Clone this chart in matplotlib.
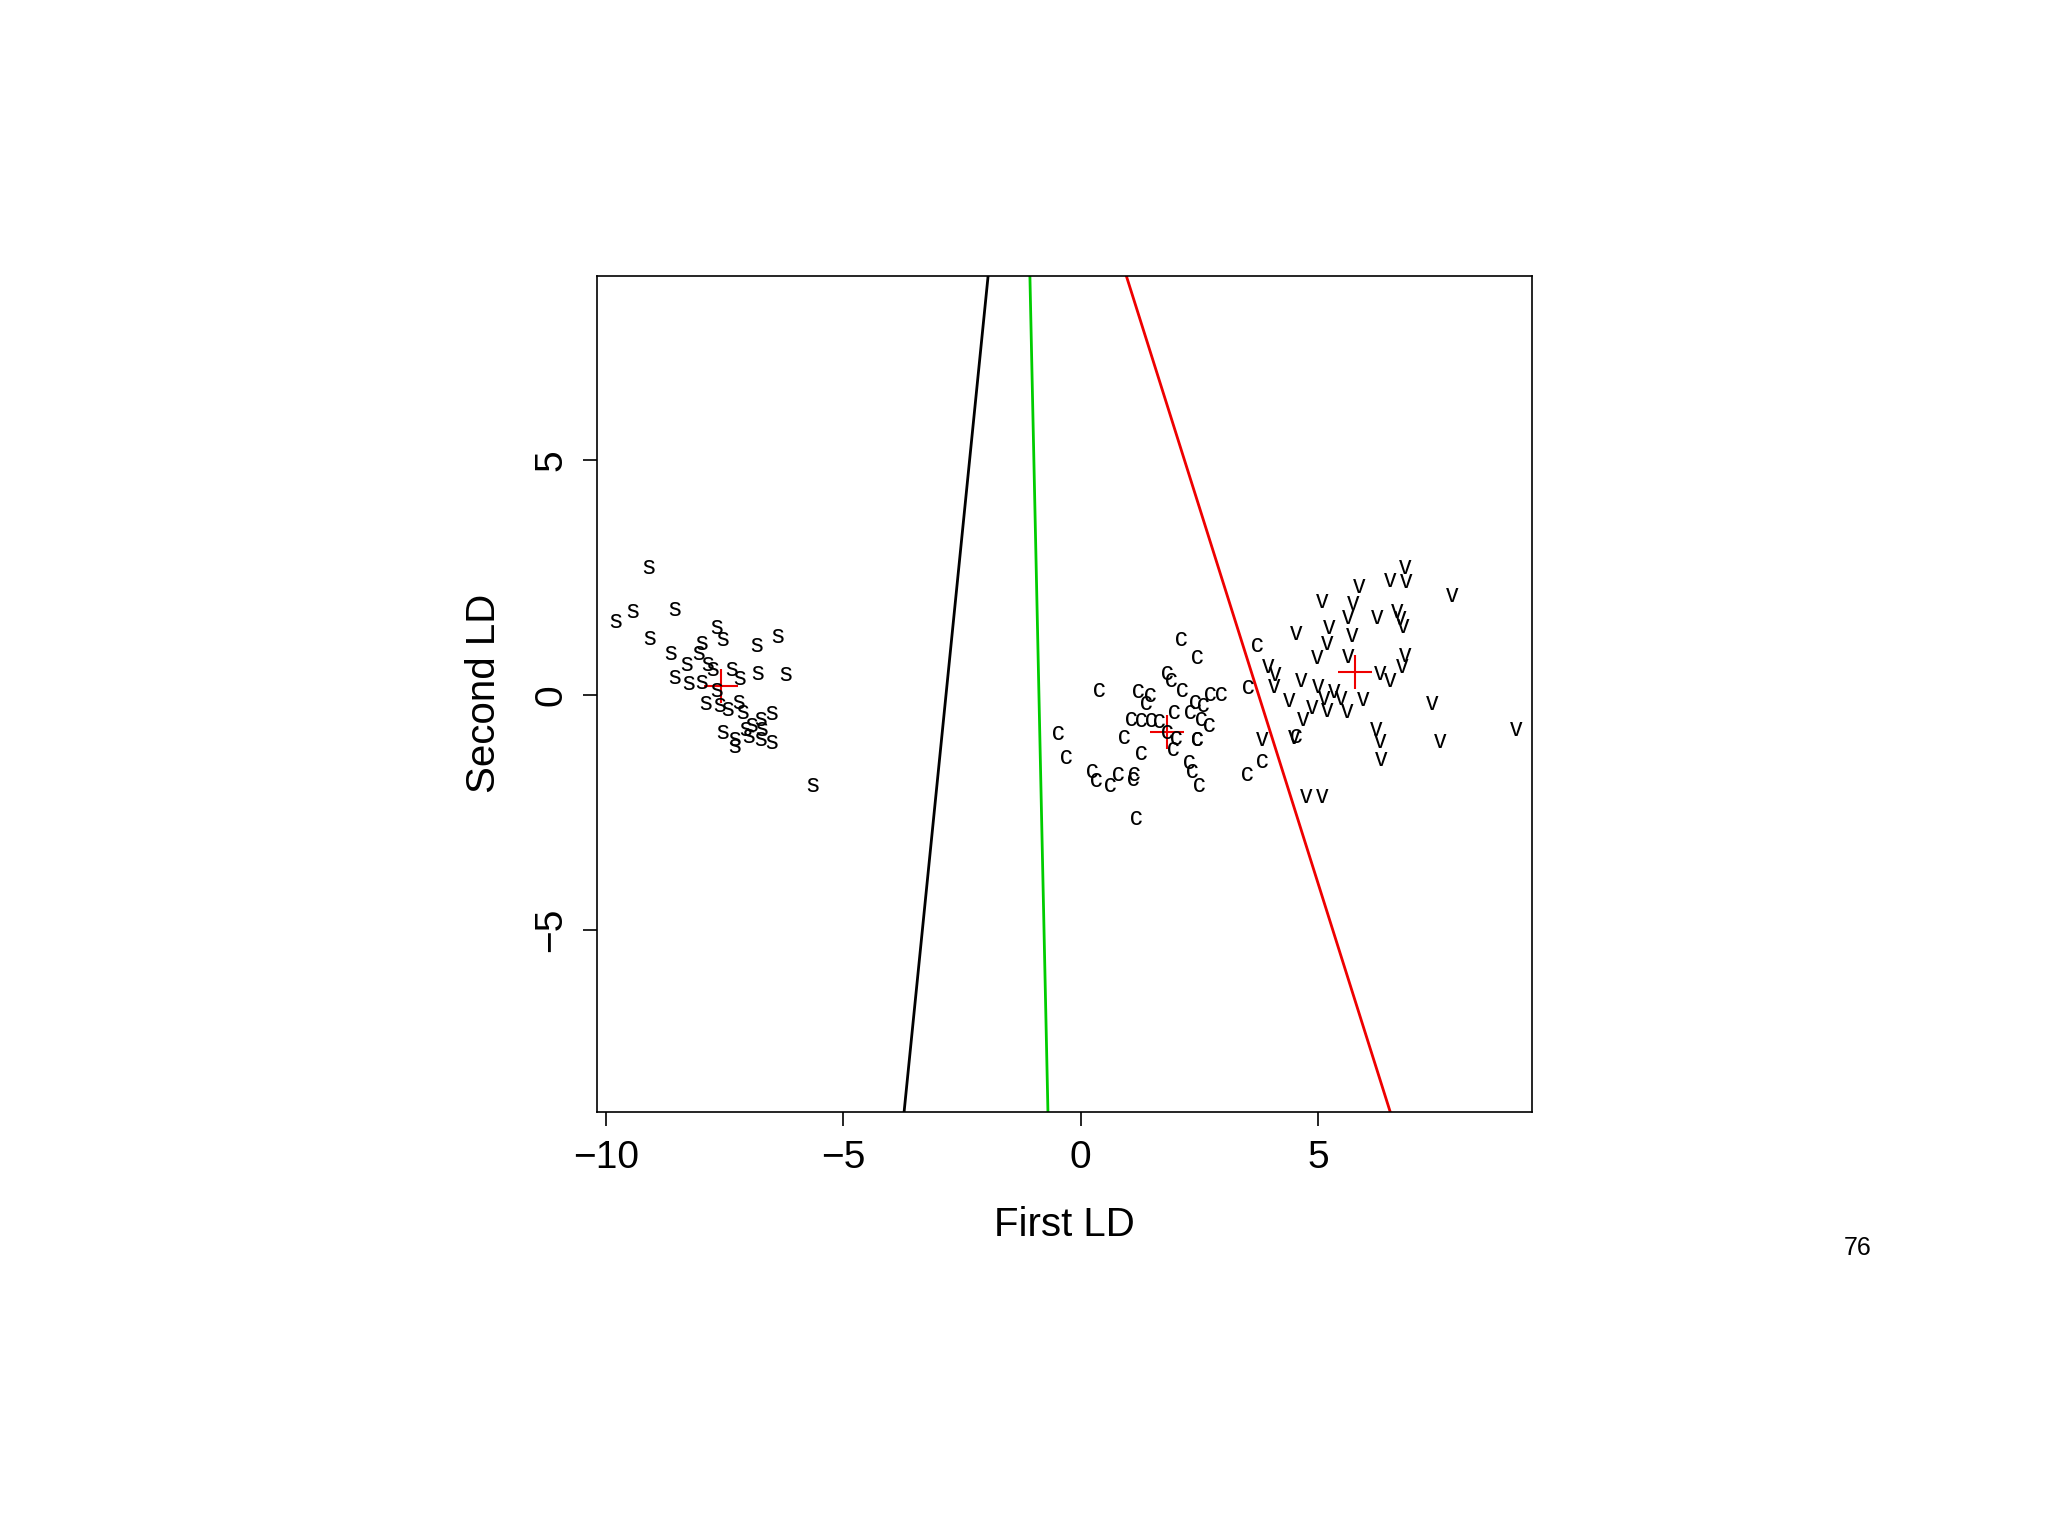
import matplotlib
matplotlib.use("Agg")
import matplotlib.pyplot as plt

s_x = [-9.11,-9.8,-9.44,-8.56,-9.08,-7.68,-7.54,-7.98,-6.83,-6.39,-8.65,-8.05,-8.31,-7.87,-7.76,-7.35,-6.8,-6.22,-8.56,-8.26,-7.98,-7.68,-7.18,-7.9,-7.6,-7.21,-7.43,-7.13,-6.52,-6.74,-6.94,-7.07,-6.72,-7.54,-7.29,-6.74,-6.52,-7.29,-5.64,-6.99]
s_y = [2.72,1.58,1.8,1.83,1.22,1.44,1.19,1.11,1.06,1.25,0.89,0.89,0.67,0.67,0.56,0.56,0.47,0.44,0.39,0.25,0.28,0.11,0.36,-0.17,-0.22,-0.14,-0.3,-0.36,-0.39,-0.5,-0.64,-0.72,-0.72,-0.78,-0.94,-0.94,-1.0,-1.08,-1.92,-0.86]
c_x = [2.12,2.45,1.82,1.9,0.39,1.21,1.46,2.15,2.73,2.97,2.42,1.38,2.59,1.98,2.31,1.07,1.27,1.49,1.65,2.53,2.7,-0.47,0.91,1.82,2.01,2.45,1.95,1.27,-0.3,2.28,0.25,2.34,0.8,1.13,0.33,0.63,1.1,2.5,1.18,3.72,3.52,3.5,3.83,4.54,2.45]
c_y = [1.19,0.81,0.47,0.33,0.11,0.08,0.0,0.11,0.03,0.03,-0.14,-0.17,-0.22,-0.36,-0.36,-0.5,-0.53,-0.53,-0.56,-0.5,-0.64,-0.8,-0.89,-0.78,-0.92,-0.94,-1.14,-1.22,-1.31,-1.42,-1.61,-1.61,-1.67,-1.67,-1.81,-1.92,-1.78,-1.92,-2.61,1.06,0.17,-1.67,-1.39,-0.86,-0.94]
v_x = [6.83,6.53,6.85,5.86,7.82,5.09,5.75,6.66,6.25,5.64,6.74,5.23,6.8,4.54,5.72,5.2,6.83,5.64,4.98,6.77,3.94,6.3,6.53,4.1,4.65,4.07,5.01,5.34,4.4,5.12,5.48,5.95,4.87,5.2,5.62,7.4,4.68,6.22,9.17,3.83,6.3,7.57,4.49,6.33,4.76,5.09]
v_y = [2.72,2.44,2.42,2.33,2.14,2.0,1.97,1.8,1.67,1.67,1.64,1.44,1.47,1.33,1.28,1.11,0.86,0.83,0.81,0.61,0.61,0.47,0.33,0.44,0.33,0.19,0.19,0.08,-0.11,-0.06,-0.06,-0.08,-0.25,-0.31,-0.33,-0.17,-0.5,-0.72,-0.72,-0.94,-0.97,-0.97,-0.89,-1.36,-2.14,-2.14]
mean_x = [-7.57, 1.82, 5.78]
mean_y = [0.19, -0.78, 0.5]
black_line = ([-1.95, -3.72], [8.92, -8.86])
green_line = ([-1.07, -0.69], [8.92, -8.86])
red_line = ([0.96, 6.52], [8.92, -8.86])

fig = plt.figure(figsize=(20.48, 15.35), dpi=100)
ax = fig.add_axes([0.2915, 0.2757, 0.4566, 0.5447])
ax.set_xlim(-10.19, 9.51)
ax.set_ylim(-8.86, 8.92)
for xs, ys, lab in [(s_x, s_y, 's'), (c_x, c_y, 'c'), (v_x, v_y, 'v')]:
    for x, y in zip(xs, ys):
        ax.text(x, y, lab, ha='center', va='center', fontsize=18, family='Liberation Sans')
ax.plot(*black_line, color='black', lw=2)
ax.plot(*green_line, color='#00cc00', lw=2)
ax.plot(*red_line, color='#ee0000', lw=2)
ax.plot(mean_x, mean_y, '+', color='#ee0000', ms=24, mew=1.5)
ax.set_xticks([-10, -5, 0, 5])
ax.set_xticklabels(['\u221210', '\u22125', '0', '5'])
ax.set_yticks([-5, 0, 5])
ax.set_yticklabels(['\u22125', '0', '5'], rotation=90, va='center')
ax.tick_params(labelsize=28, length=10, width=1.2, pad=10)
for lab in ax.get_xticklabels() + ax.get_yticklabels():
    lab.set_family('Liberation Sans')
ax.set_xlabel('First LD', fontsize=29, family='Liberation Sans', labelpad=22)
ax.set_ylabel('Second LD', fontsize=29, family='Liberation Sans', labelpad=22)
for sp in ax.spines.values():
    sp.set_linewidth(1.2)
fig.text(0.907, 0.187, '76', fontsize=18, ha='center', va='center', family='Liberation Sans')
fig.savefig('out.png', dpi=100)
